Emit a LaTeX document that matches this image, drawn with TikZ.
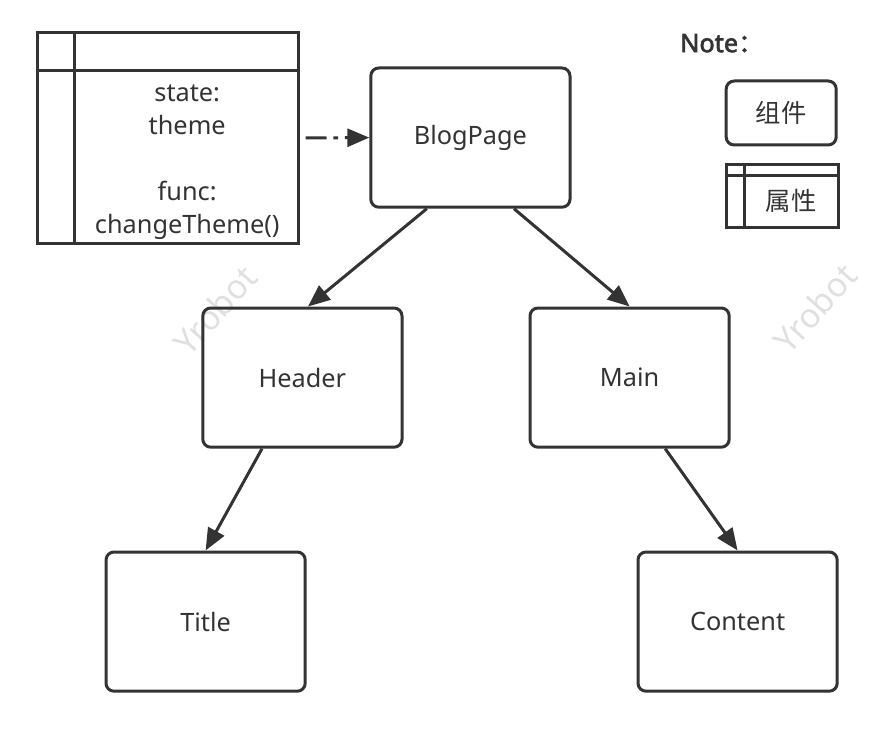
\documentclass[tikz,border=0pt]{standalone}
\usepackage{fontspec}
\setmainfont{Noto Sans}
\newfontfamily\cjk{Noto Sans CJK SC}
\newfontfamily\notefont{Noto Sans}[FakeBold=2.5]
\newfontfamily\cjkbold{Noto Sans CJK SC}[FakeBold=2.5]
\usepackage{tikz}
\usetikzlibrary{arrows.meta, positioning}

\definecolor{ink}{HTML}{333333}

\begin{document}
\begin{tikzpicture}[->, >={Triangle[length=0.55cm, width=0.45cm]}, line width=0.075cm, draw=ink, text=ink,
		font=\fontsize{18}{23.5}\selectfont,
		comp/.style={draw=ink, rounded corners=0.2cm, minimum width=4.98cm, minimum height=3.48cm, -},
		attrbox/.style={draw=ink, -},
		mark line/.style={-, line width=0.075cm},
		dotdash/.style={dash pattern=on 0.52cm off 0.17cm on 0.12cm off 0.17cm},
		wmark/.style={text=black!12, rotate=48, font=\fontsize{24}{24}\selectfont}]
		\useasboundingbox (0, 0) rectangle (22, 18.2);

		% watermarks
		\node[wmark] (wm1) at (5.375, 10.45) {Yrobot};
		\node[wmark] (wm2) at (20.375, 10.5) {Yrobot};

		% components
		\node[comp] (blog) at (11.76, 14.76) {BlogPage};
		\node[comp] (header) at (7.56, 8.76) {Header};
		\node[comp] (main) at (15.74, 8.76) {Main};
		\node[comp] (title) at (5.14, 2.66) {Title};
		\node[comp] (content) at (18.44, 2.66) {Content};

		% attributes of BlogPage
		\node[attrbox, minimum width=6.53cm, minimum height=5.25cm] (attr) at (4.19, 14.75) {};
		\draw[mark line] ([yshift=-0.98cm]attr.north west) -- ([yshift=-0.98cm]attr.north east);
		\draw[mark line] ([xshift=0.98cm]attr.north west) -- ([xshift=0.98cm]attr.south west);
		\node[align=center] (attrtext) at (4.68, 14.15) {state:\\theme\\[23.5pt]func:\\changeTheme()};

		% legend
		\node[anchor=west] (note) at (16.85, 17.12) {{\notefont Note}{\cjkbold ：}};
		\node[draw=ink, rounded corners=0.2cm, minimum width=2.75cm, minimum height=1.6cm] (legcomp) at (19.53, 15.375) {\cjk 组件};
		\node[attrbox, minimum width=2.8cm, minimum height=1.575cm] (legattr) at (19.55, 13.29) {};
		\draw[mark line] ([yshift=-0.3cm]legattr.north west) -- ([yshift=-0.3cm]legattr.north east);
		\draw[mark line] ([xshift=0.5cm]legattr.north west) -- ([xshift=0.5cm]legattr.south west);
		\node (legattrtext) at (19.78, 13.17) {\cjk 属性};

		\path (attr.east) edge[dotdash, shorten <=0.15cm] (blog.west)
			([xshift=-1.09cm]blog.south) edge ([xshift=0.14cm]header.north)
			([xshift=1.09cm]blog.south) edge (main.north)
			([xshift=-1.01cm]header.south) edge (title.north)
			([xshift=0.89cm]main.south) edge (content.north);
	\end{tikzpicture}
\end{document}
